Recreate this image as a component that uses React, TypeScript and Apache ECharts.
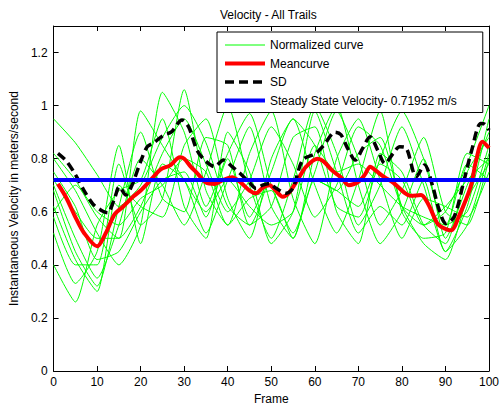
import React, { useEffect, useRef } from "react";
import * as echarts from "echarts";

const frames = [0, 5, 10, 15, 20, 25, 30, 35, 40, 45, 50, 55, 60, 65, 70, 75, 80, 85, 90, 95, 100];

const normalizedCurves: number[][] = [
  [0.95, 0.86, 0.74, 0.62, 0.70, 0.88, 1.00, 0.86, 0.62, 0.55, 0.75, 0.95, 0.85, 0.62, 0.58, 0.80, 0.98, 0.80, 0.55, 0.60, 0.85],
  [0.82, 0.72, 0.58, 0.50, 0.62, 0.82, 0.95, 0.78, 0.60, 0.72, 0.92, 0.78, 0.58, 0.70, 0.92, 0.85, 0.62, 0.55, 0.60, 0.78, 1.00],
  [0.80, 0.68, 0.52, 0.40, 0.55, 1.05, 0.90, 0.62, 0.82, 0.97, 0.70, 0.52, 0.75, 0.98, 0.80, 0.55, 0.68, 0.88, 0.60, 0.55, 0.80],
  [0.70, 0.50, 0.35, 0.55, 0.80, 0.70, 0.55, 0.75, 1.00, 0.70, 0.50, 0.72, 1.00, 0.82, 0.55, 0.70, 0.92, 0.70, 0.45, 0.62, 0.95],
  [0.68, 0.45, 0.32, 0.62, 0.90, 0.65, 0.60, 0.88, 0.85, 0.55, 0.62, 0.88, 0.92, 0.60, 0.48, 0.82, 0.75, 0.55, 0.48, 0.75, 0.88],
  [0.62, 0.42, 0.30, 0.70, 0.62, 0.58, 0.85, 0.95, 0.65, 0.50, 0.80, 0.95, 0.70, 0.52, 0.72, 0.98, 0.60, 0.50, 0.52, 0.82, 0.78],
  [0.58, 0.40, 0.40, 0.78, 0.55, 0.65, 1.06, 0.68, 0.55, 0.82, 0.98, 0.65, 0.48, 0.80, 0.95, 0.72, 0.50, 0.65, 0.62, 0.58, 0.75],
  [0.52, 0.33, 0.45, 0.85, 0.48, 0.78, 0.72, 0.52, 0.72, 0.92, 0.62, 0.50, 0.82, 1.00, 0.70, 0.48, 0.60, 0.80, 0.50, 0.70, 0.90],
  [0.40, 0.26, 0.55, 0.68, 0.72, 0.95, 0.62, 0.50, 0.90, 0.75, 0.48, 0.60, 0.98, 0.75, 0.52, 0.62, 0.55, 0.72, 0.45, 0.55, 0.82],
  [0.75, 0.62, 0.42, 0.45, 0.60, 0.72, 0.75, 0.58, 0.80, 0.58, 0.72, 0.72, 0.72, 0.68, 0.82, 0.88, 0.62, 0.48, 0.42, 0.65, 0.78],
  [0.72, 0.60, 0.50, 0.50, 0.98, 0.85, 0.72, 0.60, 0.72, 0.62, 0.55, 0.60, 0.85, 0.75, 0.78, 0.70, 0.62, 0.58, 0.55, 0.78, 0.72],
  [0.60, 0.70, 0.60, 0.55, 0.65, 0.70, 0.80, 0.75, 0.55, 0.65, 0.68, 0.50, 0.72, 0.68, 0.62, 0.78, 0.72, 0.55, 0.62, 0.72, 0.80],
];

const meanFrames = [1, 3, 5, 7, 10, 12, 14, 16, 18.5, 20, 22.3, 24.6, 26.8, 29, 30, 31.5, 33, 35, 37, 39, 41, 43, 45, 46.5, 48, 49.6, 51, 52.6, 54, 56.4, 58, 60.6, 62, 64, 66, 67.8, 70, 71.5, 72.7, 74, 76, 78, 80.7, 82, 84.4, 86, 88, 89, 91.3, 93, 95.8, 97, 98.5, 100];
const meanValues = [0.705, 0.65, 0.58, 0.52, 0.47, 0.52, 0.59, 0.62, 0.66, 0.68, 0.72, 0.76, 0.775, 0.805, 0.8, 0.77, 0.745, 0.71, 0.705, 0.72, 0.73, 0.71, 0.68, 0.67, 0.69, 0.7, 0.68, 0.657, 0.67, 0.73, 0.77, 0.8, 0.79, 0.755, 0.73, 0.7, 0.713, 0.74, 0.77, 0.755, 0.73, 0.71, 0.67, 0.66, 0.663, 0.63, 0.56, 0.544, 0.53, 0.58, 0.695, 0.79, 0.864, 0.84];

const sdFrames = [1, 3, 5, 7, 9, 11, 12.4, 14, 15.1, 16.6, 18, 20, 21.5, 23, 25.3, 27, 29.5, 31, 33, 35, 37, 39, 41, 42.8, 45, 46.5, 48, 49.6, 51, 53.4, 55, 57.2, 60.2, 62, 64.7, 66, 67.5, 69.3, 71, 72.7, 74.5, 76.1, 78, 79.5, 81, 83.3, 85.2, 87, 88.5, 90.1, 92, 94, 96, 98.1, 99, 100];
const sdValues = [0.82, 0.79, 0.74, 0.68, 0.63, 0.605, 0.596, 0.65, 0.694, 0.663, 0.7, 0.79, 0.845, 0.86, 0.889, 0.9, 0.946, 0.92, 0.83, 0.79, 0.77, 0.795, 0.77, 0.745, 0.71, 0.688, 0.7, 0.707, 0.69, 0.67, 0.69, 0.795, 0.82, 0.85, 0.9, 0.89, 0.84, 0.795, 0.84, 0.883, 0.83, 0.782, 0.82, 0.845, 0.84, 0.732, 0.776, 0.7, 0.61, 0.556, 0.581, 0.7, 0.83, 0.933, 0.93, 0.908];

const steadyState = 0.71952;
const steadyFrames = [0, 100];

const FONT = "'Liberation Sans', Arial, sans-serif";

export default function App() {
  const ref = useRef<HTMLDivElement>(null);
  useEffect(() => {
    if (!ref.current) return;
    const chart = echarts.init(ref.current, undefined, { renderer: "svg" });
    const axisCommon = {
      type: "value" as const,
      axisLine: { show: true, onZero: false, lineStyle: { color: "#000", width: 1 } },
      axisTick: { show: true, inside: true, length: 5, lineStyle: { color: "#000" } },
      splitLine: { show: false },
    };
    const series: any[] = [];
    normalizedCurves.forEach((c) => {
      series.push({
        name: "Normalized curve",
        type: "line",
        data: frames.map((f, i) => [f, c[i]]),
        symbol: "none",
        smooth: 0.2,
        lineStyle: { color: "#00ff00", width: 1 },
        itemStyle: { color: "#00ff00" },
        z: 2,
      });
    });
    series.push({
      name: "Meancurve",
      type: "line",
      data: meanFrames.map((f, i) => [f, meanValues[i]]),
      symbol: "none",
      smooth: 0.3,
      lineStyle: { color: "#ff0000", width: 4 },
      itemStyle: { color: "#ff0000" },
      z: 3,
    });
    series.push({
      name: "SD",
      type: "line",
      data: sdFrames.map((f, i) => [f, sdValues[i]]),
      symbol: "none",
      smooth: 0.3,
      lineStyle: { color: "#000000", width: 3.5, type: [9, 5] },
      itemStyle: { color: "#000000" },
      z: 4,
    });
    series.push({
      name: "Steady State Velocity- 0.71952 m/s",
      type: "line",
      data: steadyFrames.map((f) => [f, steadyState]),
      symbol: "none",
      lineStyle: { color: "#0000ff", width: 4 },
      itemStyle: { color: "#0000ff" },
      z: 5,
    });
    chart.setOption({
      animation: false,
      textStyle: { fontFamily: FONT },
      title: {
        text: "Velocity - All Trails",
        left: 215,
        top: 4,
        textStyle: { fontSize: 12, fontWeight: "normal", color: "#000", fontFamily: FONT },
      },
      legend: {
        data: [
          { name: "Normalized curve", lineStyle: { width: 1 } },
          { name: "Meancurve", lineStyle: { width: 4 } },
          { name: "SD", lineStyle: { width: 3.5, type: [9, 5] } },
          { name: "Steady State Velocity- 0.71952 m/s", lineStyle: { width: 4 } },
        ],
        orient: "vertical",
        left: 217,
        top: 32,
        padding: [7, 26, 6, 6],
        itemWidth: 40,
        itemHeight: 14,
        itemGap: 6.5,
        backgroundColor: "#fff",
        borderColor: "#000",
        borderWidth: 1,
        borderRadius: 0,
        itemStyle: { opacity: 0 },
        textStyle: { fontSize: 12, color: "#000", fontFamily: FONT },
        z: 10,
      },
      grid: { left: 52, right: 10, top: 26, bottom: 42, containLabel: false },
      xAxis: [
        {
          ...axisCommon,
          position: "bottom",
          min: 0,
          max: 100,
          interval: 10,
          name: "Frame",
          nameLocation: "middle",
          nameGap: 19,
          nameTextStyle: { fontSize: 12, color: "#000", fontFamily: FONT },
          axisLabel: { fontSize: 12, color: "#000", margin: 5, fontFamily: FONT },
        },
        {
          ...axisCommon,
          position: "top",
          min: 0,
          max: 100,
          interval: 10,
          axisLabel: { show: false },
        },
      ],
      yAxis: [
        {
          ...axisCommon,
          position: "left",
          min: 0,
          max: 1.3,
          interval: 0.2,
          name: "Instantaneous Velocity in meters/second",
          nameLocation: "middle",
          nameGap: 31,
          nameTextStyle: { fontSize: 12, color: "#000", fontFamily: FONT },
          axisLabel: {
            fontSize: 12,
            color: "#000",
            margin: 6,
            fontFamily: FONT,
            showMaxLabel: false,
            formatter: (v: number) => (Math.abs(v - 1.3) < 1e-6 ? "" : String(Math.round(v * 10) / 10)),
          },
        },
        {
          ...axisCommon,
          position: "right",
          min: 0,
          max: 1.3,
          interval: 0.2,
          axisLabel: { show: false },
        },
      ],
      series,
    });
    return () => chart.dispose();
  }, []);
  return <div ref={ref} style={{ width: 502, height: 413, position: "absolute", left: 0, top: 0 }} />;
}
